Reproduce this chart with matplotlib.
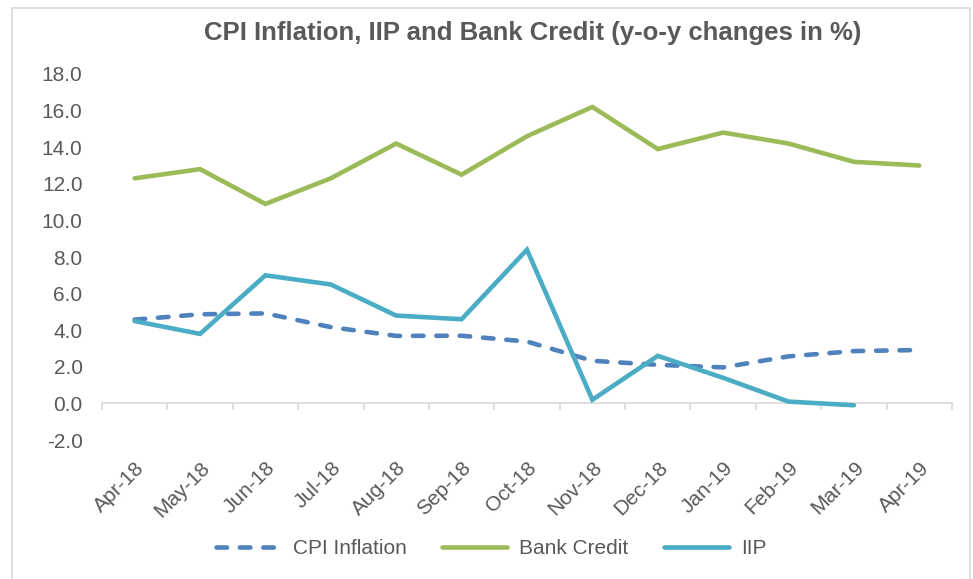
import matplotlib
matplotlib.use('Agg')
import matplotlib.pyplot as plt
from matplotlib.patches import Rectangle

plt.rcParams['font.family'] = ['Liberation Sans', 'DejaVu Sans']

months = ['Apr-18', 'May-18', 'Jun-18', 'Jul-18', 'Aug-18', 'Sep-18', 'Oct-18',
          'Nov-18', 'Dec-18', 'Jan-19', 'Feb-19', 'Mar-19', 'Apr-19']
cpi = [4.58, 4.87, 4.92, 4.17, 3.69, 3.70, 3.38, 2.33, 2.11, 1.97, 2.57, 2.86, 2.92]
bank_credit = [12.3, 12.8, 10.9, 12.3, 14.2, 12.5, 14.6, 16.2, 13.9, 14.8, 14.2, 13.2, 13.0]
iip = [4.5, 3.8, 7.0, 6.5, 4.8, 4.6, 8.4, 0.2, 2.6, 1.4, 0.1, -0.1]

grey = '#595959'
x = list(range(len(months)))

fig = plt.figure(figsize=(9.73, 5.79), dpi=100)
ax = fig.add_axes([0.1048, 0.240, 0.8736, 0.6322])

# chart border
fig.patches.append(Rectangle((12 / 973, -0.1), 958 / 973, 1.1 - 8 / 579,
                             transform=fig.transFigure, fill=False,
                             edgecolor='#D9D9D9', linewidth=1.2))

ax.plot(x, cpi, color='#4F81BD', lw=3.3, linestyle=(0, (2.3, 2.8)),
        dash_capstyle='round', solid_capstyle='round', label='CPI Inflation', zorder=3)
ax.plot(x, bank_credit, color='#9BBB59', lw=3.3, solid_capstyle='round',
        solid_joinstyle='miter', label='Bank Credit', zorder=3)
ax.plot(x[:len(iip)], iip, color='#4BACC6', lw=3.3, solid_capstyle='round',
        solid_joinstyle='miter', label='IIP', zorder=4)

ax.set_xlim(-0.5, len(months) - 0.5)
ax.set_ylim(-2, 18)
ax.set_yticks([-2, 0, 2, 4, 6, 8, 10, 12, 14, 16, 18])
ax.set_yticklabels([f'{v:.1f}' for v in ax.get_yticks()])
ax.tick_params(axis='y', length=0, pad=14, labelsize=15, labelcolor=grey)

ax.set_xticks(x)
ax.set_xticklabels(months, rotation=45, ha='right', rotation_mode='anchor')
ax.tick_params(axis='x', length=0, pad=13, labelsize=15, labelcolor=grey)
for s in ax.spines.values():
    s.set_visible(False)

# horizontal axis line crossing at zero, with category tick marks
sec = ax.secondary_xaxis(0.1)
sec.set_xticks([i - 0.5 for i in range(len(months) + 1)])
sec.set_xticklabels([])
sec.tick_params(length=5, width=1.2, color='#D9D9D9')
sec.spines['bottom'].set_color('#D9D9D9')
sec.spines['bottom'].set_linewidth(1.2)

fig.text(0.547, 0.943, 'CPI Inflation, IIP and Bank Credit (y-o-y changes in %)',
         ha='center', va='center', fontsize=18.5, fontweight='bold', color=grey)

fig.legend(loc='center', bbox_to_anchor=(0.505, 0.052), ncol=3, frameon=False,
           fontsize=15, labelcolor=grey, handlelength=3.1, handletextpad=0.6,
           columnspacing=1.7)

fig.savefig('out.png', dpi=100)
